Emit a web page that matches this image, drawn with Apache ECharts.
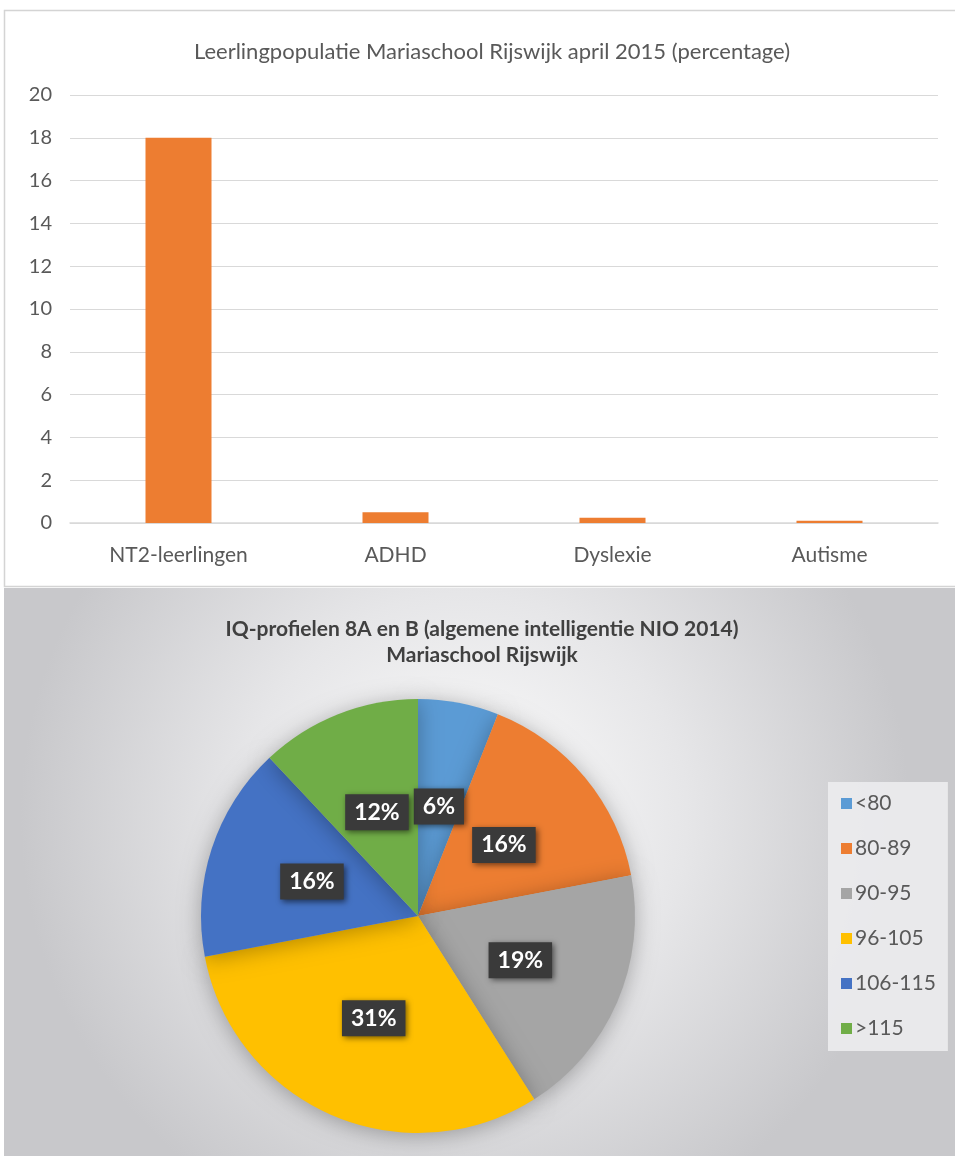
<!DOCTYPE html>
<html>
<head>
<meta charset="utf-8">
<script src="https://cdn.jsdelivr.net/npm/echarts@6/dist/echarts.min.js"></script>
<style>html,body{margin:0;padding:0;background:#fff}#c{width:955px;height:1156px}</style>
</head>
<body>
<div id="c"></div>
<script>
const barTitle = 'Leerlingpopulatie Mariaschool Rijswijk april 2015 (percentage)';
const barCategories = ['NT2-leerlingen', 'ADHD', 'Dyslexie', 'Autisme'];
const barValues = [18, 0.5, 0.25, 0.1];
const yTicks = { min: 0, max: 20, interval: 2 };

const pieTitle = 'IQ-profielen 8A en B (algemene intelligentie NIO 2014)\nMariaschool Rijswijk';
const pieCategories = ['<80', '80-89', '90-95', '96-105', '106-115', '>115'];
const pieValues = [6, 16, 19, 31, 16, 12];
const pieColors = ['#5B9BD5', '#ED7D31', '#A5A5A5', '#FFC000', '#4472C4', '#70AD47'];

const chart = echarts.init(document.getElementById('c'), null, { renderer: 'canvas' });
const font = 'Lato, "Open Sans", "Liberation Sans", sans-serif';

chart.setOption({
  animation: false,
  textStyle: { fontFamily: font },
  graphic: [
    { type: 'rect', z: -10, silent: true, shape: { x: 4.5, y: 10.5, width: 960, height: 576 },
      style: { fill: '#ffffff', stroke: '#d4d4d4', lineWidth: 1.5 } },
    { type: 'rect', z: -10, silent: true, shape: { x: 4, y: 588, width: 960, height: 570 },
      style: { fill: new echarts.graphic.RadialGradient(0.48, 0.4, 0.78, [
        { offset: 0, color: '#fdfdfd' },
        { offset: 0.5, color: '#e6e6e8' },
        { offset: 1, color: '#c8c8cb' }
      ]) } }
  ],
  title: [
    { text: barTitle, left: 487, top: 36, textAlign: 'center',
      textStyle: { fontFamily: font, fontSize: 22, fontWeight: 'normal', color: '#595959' } },
    { text: pieTitle, left: 477, top: 611, textAlign: 'center',
      textStyle: { fontFamily: font, fontSize: 21, fontWeight: 'bold', color: '#404040', lineHeight: 26 } }
  ],
  grid: { left: 70, right: 17, top: 95, bottom: 1156 - 523, containLabel: false },
  xAxis: {
    type: 'category', data: barCategories,
    axisLine: { lineStyle: { color: '#d9d9d9', width: 1.5 } },
    axisTick: { show: false },
    axisLabel: { color: '#595959', fontSize: 21, margin: 22, fontFamily: font }
  },
  yAxis: {
    type: 'value', min: yTicks.min, max: yTicks.max, interval: yTicks.interval,
    axisLine: { show: false }, axisTick: { show: false },
    splitLine: { lineStyle: { color: '#d9d9d9', width: 1.2 } },
    axisLabel: { color: '#595959', fontSize: 20, margin: 18, fontFamily: font }
  },
  legend: {
    data: pieCategories,
    orient: 'vertical',
    left: 828, top: 782,
    itemWidth: 11, itemHeight: 11, itemGap: 24,
    padding: [11, 12, 12, 13],
    backgroundColor: 'rgba(236,236,238,0.9)',
    icon: 'rect',
    textStyle: { color: '#595959', fontSize: 21, fontFamily: font, padding: [0, 0, 0, -2] }
  },
  series: [
    { type: 'bar', data: barValues, barWidth: 66,
      itemStyle: { color: '#ED7D31' } },
    { type: 'pie', center: [418, 916], radius: 217, startAngle: 90, clockwise: true,
      data: pieCategories.map((n, i) => ({ name: n, value: pieValues[i], itemStyle: { color: pieColors[i] } })),
      itemStyle: { shadowBlur: 22, shadowColor: 'rgba(0,0,0,0.3)', shadowOffsetY: 3 },
      label: {
        show: true, position: 'inside', formatter: '{c}%',
        color: '#ffffff', fontWeight: 'bold', fontSize: 23, fontFamily: font,
        backgroundColor: '#3a3a3a', padding: [7, 9, 6, 9],
        shadowBlur: 6, shadowColor: 'rgba(0,0,0,0.55)', shadowOffsetX: 2, shadowOffsetY: 2
      },
      labelLine: { show: false },
      emphasis: { disabled: true }
    }
  ]
});
</script>
</body>
</html>
